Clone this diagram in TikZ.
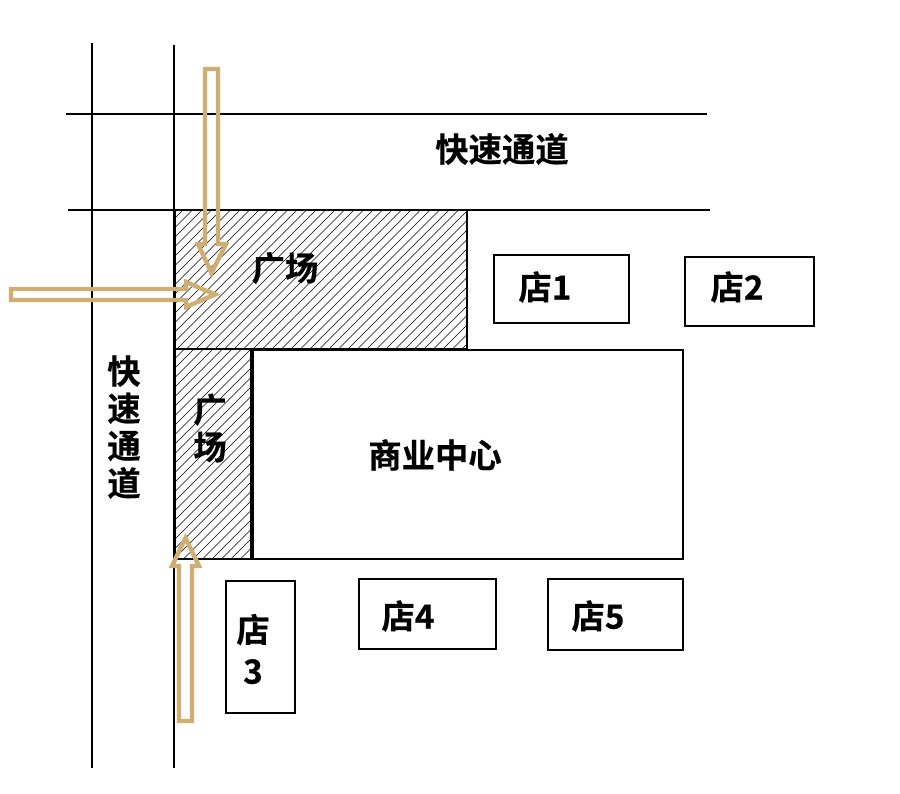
\documentclass[tikz,border=0pt]{standalone}
\usepackage{fontspec}
\newfontfamily\cjk[BoldFont={Noto Sans CJK SC Bold},BoldFeatures={FakeBold=0.5}]{Noto Sans CJK SC}
\definecolor{tan}{RGB}{207,174,116}
\tikzset{
  x=0.75pt,y=-0.75pt,
  road/.style={draw=black,line width=1.5pt},
  box/.style={draw=black,line width=1.3pt},
  plaza/.style={draw=black,line width=1.5pt},
  hatchline/.style={draw=black,line width=0.5pt},
  flow/.style={draw=tan,line width=3.3pt,line join=miter},
  lbl/.style={font=\cjk\bfseries\fontsize{25}{28}\selectfont,inner sep=0pt,align=center}
}
\begin{document}
\begin{tikzpicture}
\useasboundingbox (0,0) rectangle (900,793);
\fill[white] (0,0) rectangle (900,793);
\coordinate (r1a) at (92,43);  \coordinate (r1b) at (92,768);
\coordinate (r2a) at (174,45); \coordinate (r2b) at (174,768);
\coordinate (r3a) at (66,114); \coordinate (r3b) at (707,114);
\coordinate (r4a) at (68,210); \coordinate (r4b) at (710,210);
\draw[road] (r1a)--(r1b);
\draw[road] (r2a)--(r2b);
\draw[road] (r3a)--(r3b);
\draw[road] (r4a)--(r4b);
% plazas
\begin{scope}
\clip (175,210) rectangle (467,349);
\foreach \i in {0,...,50} {\draw[hatchline] (175+\i*9.5-150,349)--(175+\i*9.5,199);}
\end{scope}
\begin{scope}
\clip (175,349) rectangle (251,559);
\foreach \i in {0,...,40} {\draw[hatchline] (175+\i*9.5-220,569)--(175+\i*9.5,349);}
\end{scope}
\draw[plaza] (175,210) rectangle (467,349);
\draw[box] (252,350) rectangle (683,559);
\draw[plaza] (175,349) rectangle (252,559);
\draw[black,line width=3pt] (252,350)--(252,559);
\draw[box] (494,255) rectangle (629,323);
\draw[box] (685,257) rectangle (814,326);
\draw[box] (226,581) rectangle (295,713);
\draw[box] (359,579) rectangle (496,649);
\draw[box] (548,579) rectangle (683,650);
% arrows
\draw[flow] (205,69)--(218,69)--(218,244)--(226,244)--(211.5,273)--(198,244)--(205,244)--cycle;
\draw[flow] (11,289)--(186,289)--(186,282)--(215,294.5)--(186,307)--(186,300)--(11,300)--cycle;
\draw[flow] (179,721)--(192,721)--(192,566)--(199,566)--(185.5,538)--(172,566)--(179,566)--cycle;
% labels
\node[lbl] (t1) at (502,149) {快速通道};
\node[lbl] (t2) at (285,268) {广场};
\node[lbl] (t3) at (124,427) {\lineskiplimit=-50pt\fontsize{25}{24.8}\selectfont 快\\速\\通\\道};
\node[lbl] (t4) at (210,428) {\lineskiplimit=-50pt\fontsize{25}{24}\selectfont 广\\场};
\node[lbl] (t5) at (435,455) {商业中心};
\node[lbl] (t6) at (545,287) {店1};
\node[lbl] (t7) at (737,287) {店2};
\node[lbl] (t8) at (253,649) {店\\[3pt]3};
\node[lbl] (t9) at (408,616) {店4};
\node[lbl] (t10) at (598,616) {店5};
\end{tikzpicture}
\end{document}
